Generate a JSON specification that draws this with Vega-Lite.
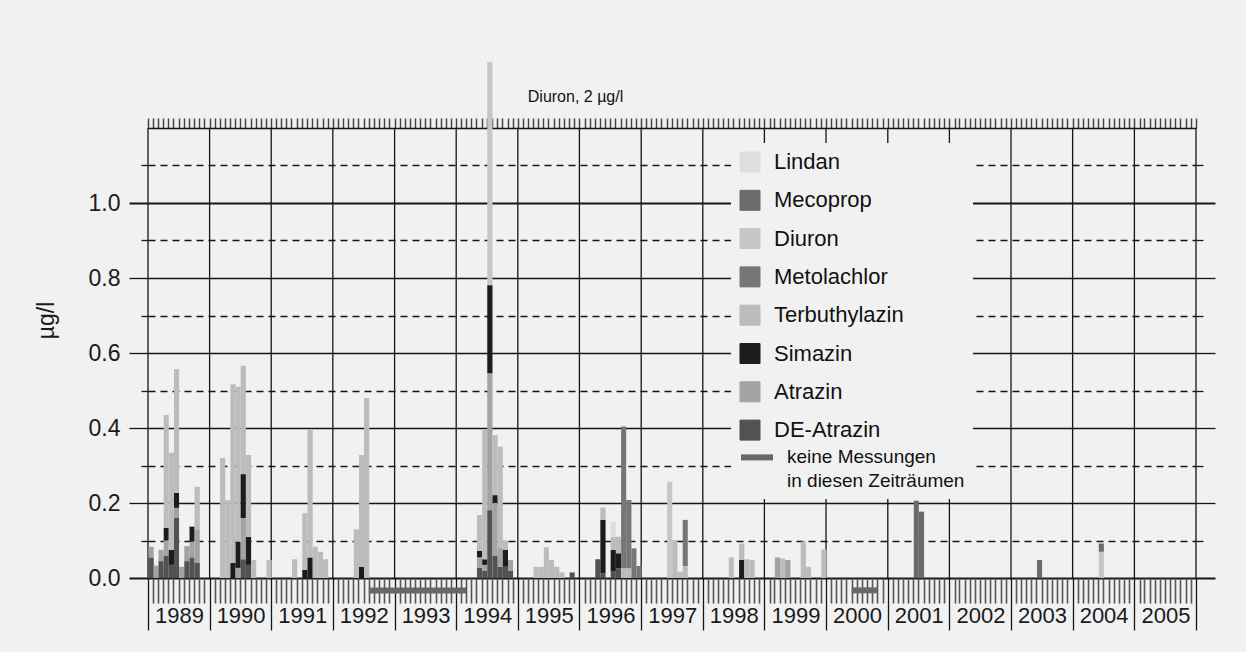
{
  "$schema": "https://vega.github.io/schema/vega-lite/v6.json",
  "autosize": {"type": "none"},
  "padding": {"left": 148, "top": 62, "right": 50, "bottom": 74},
  "width": 1048,
  "height": 516,
  "background": "#f1f1f1",
  "config": {
    "view": {"stroke": null},
    "font": "Liberation Sans",
    "axis": {"labelFont": "Liberation Sans", "titleFont": "Liberation Sans"},
    "legend": {"labelFont": "Liberation Sans"}
  },
  "datasets": {
    "measurements": [
      {"month": "1989-01-01", "substance": "DE-Atrazin", "value": 0.055},
      {"month": "1989-01-01", "substance": "Atrazin", "value": 0.028},
      {"month": "1989-02-01", "substance": "Atrazin", "value": 0.033},
      {"month": "1989-03-01", "substance": "DE-Atrazin", "value": 0.045},
      {"month": "1989-03-01", "substance": "Atrazin", "value": 0.03},
      {"month": "1989-04-01", "substance": "DE-Atrazin", "value": 0.06},
      {"month": "1989-04-01", "substance": "Atrazin", "value": 0.04},
      {"month": "1989-04-01", "substance": "Simazin", "value": 0.034},
      {"month": "1989-04-01", "substance": "Terbuthylazin", "value": 0.301},
      {"month": "1989-05-01", "substance": "DE-Atrazin", "value": 0.035},
      {"month": "1989-05-01", "substance": "Simazin", "value": 0.04},
      {"month": "1989-05-01", "substance": "Terbuthylazin", "value": 0.259},
      {"month": "1989-06-01", "substance": "DE-Atrazin", "value": 0.16},
      {"month": "1989-06-01", "substance": "Atrazin", "value": 0.027},
      {"month": "1989-06-01", "substance": "Simazin", "value": 0.04},
      {"month": "1989-06-01", "substance": "Terbuthylazin", "value": 0.33},
      {"month": "1989-07-01", "substance": "Atrazin", "value": 0.03},
      {"month": "1989-08-01", "substance": "DE-Atrazin", "value": 0.045},
      {"month": "1989-08-01", "substance": "Atrazin", "value": 0.04},
      {"month": "1989-09-01", "substance": "DE-Atrazin", "value": 0.055},
      {"month": "1989-09-01", "substance": "Atrazin", "value": 0.042},
      {"month": "1989-09-01", "substance": "Simazin", "value": 0.04},
      {"month": "1989-10-01", "substance": "DE-Atrazin", "value": 0.04},
      {"month": "1989-10-01", "substance": "Atrazin", "value": 0.09},
      {"month": "1989-10-01", "substance": "Terbuthylazin", "value": 0.113},
      {"month": "1990-03-01", "substance": "Terbuthylazin", "value": 0.32},
      {"month": "1990-04-01", "substance": "Terbuthylazin", "value": 0.208},
      {"month": "1990-05-01", "substance": "Simazin", "value": 0.04},
      {"month": "1990-05-01", "substance": "Terbuthylazin", "value": 0.477},
      {"month": "1990-06-01", "substance": "Atrazin", "value": 0.027},
      {"month": "1990-06-01", "substance": "Simazin", "value": 0.07},
      {"month": "1990-06-01", "substance": "Terbuthylazin", "value": 0.413},
      {"month": "1990-07-01", "substance": "DE-Atrazin", "value": 0.05},
      {"month": "1990-07-01", "substance": "Atrazin", "value": 0.11},
      {"month": "1990-07-01", "substance": "Simazin", "value": 0.117},
      {"month": "1990-07-01", "substance": "Terbuthylazin", "value": 0.289},
      {"month": "1990-08-01", "substance": "DE-Atrazin", "value": 0.035},
      {"month": "1990-08-01", "substance": "Simazin", "value": 0.075},
      {"month": "1990-08-01", "substance": "Terbuthylazin", "value": 0.218},
      {"month": "1990-09-01", "substance": "Terbuthylazin", "value": 0.048},
      {"month": "1990-12-01", "substance": "Terbuthylazin", "value": 0.048},
      {"month": "1991-05-01", "substance": "Terbuthylazin", "value": 0.05},
      {"month": "1991-07-01", "substance": "Simazin", "value": 0.022},
      {"month": "1991-07-01", "substance": "Terbuthylazin", "value": 0.151},
      {"month": "1991-08-01", "substance": "Simazin", "value": 0.055},
      {"month": "1991-08-01", "substance": "Terbuthylazin", "value": 0.342},
      {"month": "1991-09-01", "substance": "Terbuthylazin", "value": 0.083},
      {"month": "1991-10-01", "substance": "Terbuthylazin", "value": 0.07},
      {"month": "1991-11-01", "substance": "Terbuthylazin", "value": 0.05},
      {"month": "1992-05-01", "substance": "Terbuthylazin", "value": 0.13},
      {"month": "1992-06-01", "substance": "Simazin", "value": 0.03},
      {"month": "1992-06-01", "substance": "Terbuthylazin", "value": 0.298},
      {"month": "1992-07-01", "substance": "Terbuthylazin", "value": 0.48},
      {"month": "1994-05-01", "substance": "DE-Atrazin", "value": 0.027},
      {"month": "1994-05-01", "substance": "Atrazin", "value": 0.028},
      {"month": "1994-05-01", "substance": "Simazin", "value": 0.017},
      {"month": "1994-05-01", "substance": "Terbuthylazin", "value": 0.096},
      {"month": "1994-06-01", "substance": "DE-Atrazin", "value": 0.02},
      {"month": "1994-06-01", "substance": "Atrazin", "value": 0.015},
      {"month": "1994-06-01", "substance": "Simazin", "value": 0.015},
      {"month": "1994-06-01", "substance": "Terbuthylazin", "value": 0.345},
      {"month": "1994-07-01", "substance": "DE-Atrazin", "value": 0.181},
      {"month": "1994-07-01", "substance": "Atrazin", "value": 0.365},
      {"month": "1994-07-01", "substance": "Simazin", "value": 0.235},
      {"month": "1994-07-01", "substance": "Diuron", "value": 2.0},
      {"month": "1994-08-01", "substance": "DE-Atrazin", "value": 0.06},
      {"month": "1994-08-01", "substance": "Atrazin", "value": 0.14},
      {"month": "1994-08-01", "substance": "Simazin", "value": 0.021},
      {"month": "1994-08-01", "substance": "Terbuthylazin", "value": 0.16},
      {"month": "1994-09-01", "substance": "DE-Atrazin", "value": 0.03},
      {"month": "1994-09-01", "substance": "Atrazin", "value": 0.05},
      {"month": "1994-09-01", "substance": "Terbuthylazin", "value": 0.27},
      {"month": "1994-10-01", "substance": "DE-Atrazin", "value": 0.03},
      {"month": "1994-10-01", "substance": "Simazin", "value": 0.045},
      {"month": "1994-10-01", "substance": "Terbuthylazin", "value": 0.025},
      {"month": "1994-11-01", "substance": "DE-Atrazin", "value": 0.02},
      {"month": "1994-11-01", "substance": "Atrazin", "value": 0.028},
      {"month": "1995-04-01", "substance": "Terbuthylazin", "value": 0.03},
      {"month": "1995-05-01", "substance": "Terbuthylazin", "value": 0.03},
      {"month": "1995-06-01", "substance": "Terbuthylazin", "value": 0.082},
      {"month": "1995-07-01", "substance": "Terbuthylazin", "value": 0.048},
      {"month": "1995-08-01", "substance": "Terbuthylazin", "value": 0.03},
      {"month": "1995-09-01", "substance": "Terbuthylazin", "value": 0.015},
      {"month": "1995-11-01", "substance": "DE-Atrazin", "value": 0.015},
      {"month": "1996-04-01", "substance": "DE-Atrazin", "value": 0.05},
      {"month": "1996-05-01", "substance": "DE-Atrazin", "value": 0.012},
      {"month": "1996-05-01", "substance": "Simazin", "value": 0.143},
      {"month": "1996-05-01", "substance": "Terbuthylazin", "value": 0.033},
      {"month": "1996-07-01", "substance": "DE-Atrazin", "value": 0.017},
      {"month": "1996-07-01", "substance": "Simazin", "value": 0.058},
      {"month": "1996-07-01", "substance": "Terbuthylazin", "value": 0.035},
      {"month": "1996-07-01", "substance": "Lindan", "value": 0.04},
      {"month": "1996-08-01", "substance": "DE-Atrazin", "value": 0.026},
      {"month": "1996-08-01", "substance": "Simazin", "value": 0.04},
      {"month": "1996-08-01", "substance": "Terbuthylazin", "value": 0.044},
      {"month": "1996-09-01", "substance": "Terbuthylazin", "value": 0.026},
      {"month": "1996-09-01", "substance": "Metolachlor", "value": 0.378},
      {"month": "1996-10-01", "substance": "Terbuthylazin", "value": 0.026},
      {"month": "1996-10-01", "substance": "Metolachlor", "value": 0.182},
      {"month": "1996-11-01", "substance": "Metolachlor", "value": 0.079},
      {"month": "1996-12-01", "substance": "Metolachlor", "value": 0.032},
      {"month": "1997-06-01", "substance": "Diuron", "value": 0.257},
      {"month": "1997-07-01", "substance": "Terbuthylazin", "value": 0.101},
      {"month": "1997-08-01", "substance": "Terbuthylazin", "value": 0.017},
      {"month": "1997-09-01", "substance": "Terbuthylazin", "value": 0.032},
      {"month": "1997-09-01", "substance": "Metolachlor", "value": 0.123},
      {"month": "1998-06-01", "substance": "Terbuthylazin", "value": 0.055},
      {"month": "1998-08-01", "substance": "Simazin", "value": 0.048},
      {"month": "1998-08-01", "substance": "Terbuthylazin", "value": 0.044},
      {"month": "1998-09-01", "substance": "Terbuthylazin", "value": 0.05},
      {"month": "1998-10-01", "substance": "Terbuthylazin", "value": 0.048},
      {"month": "1999-03-01", "substance": "Atrazin", "value": 0.055},
      {"month": "1999-04-01", "substance": "Terbuthylazin", "value": 0.052},
      {"month": "1999-05-01", "substance": "Atrazin", "value": 0.048},
      {"month": "1999-08-01", "substance": "Terbuthylazin", "value": 0.097},
      {"month": "1999-09-01", "substance": "Terbuthylazin", "value": 0.03},
      {"month": "1999-12-01", "substance": "Terbuthylazin", "value": 0.076},
      {"month": "2001-06-01", "substance": "Mecoprop", "value": 0.206},
      {"month": "2001-07-01", "substance": "Mecoprop", "value": 0.177},
      {"month": "2003-06-01", "substance": "Mecoprop", "value": 0.048},
      {"month": "2004-06-01", "substance": "Diuron", "value": 0.07},
      {"month": "2004-06-01", "substance": "Mecoprop", "value": 0.022}
    ],
    "substances": [
      {"substance": "DE-Atrazin", "rank": 1},
      {"substance": "Atrazin", "rank": 2},
      {"substance": "Simazin", "rank": 3},
      {"substance": "Terbuthylazin", "rank": 4},
      {"substance": "Metolachlor", "rank": 5},
      {"substance": "Diuron", "rank": 6},
      {"substance": "Mecoprop", "rank": 7},
      {"substance": "Lindan", "rank": 8}
    ],
    "years": [
      {"year": "1989-01-01"}, {"year": "1990-01-01"}, {"year": "1991-01-01"}, {"year": "1992-01-01"},
      {"year": "1993-01-01"}, {"year": "1994-01-01"}, {"year": "1995-01-01"}, {"year": "1996-01-01"},
      {"year": "1997-01-01"}, {"year": "1998-01-01"}, {"year": "1999-01-01"}, {"year": "2000-01-01"},
      {"year": "2001-01-01"}, {"year": "2002-01-01"}, {"year": "2003-01-01"}, {"year": "2004-01-01"},
      {"year": "2005-01-01"}, {"year": "2006-01-01"}
    ],
    "gaps": [
      {"start": "1992-08-01", "end": "1994-03-01", "label": "keine Messungen in diesen Zeiträumen"},
      {"start": "2000-06-01", "end": "2000-11-01", "label": "keine Messungen in diesen Zeiträumen"}
    ],
    "notes": [
      {"date": "1995-03-01", "level": 1.283, "text": "Diuron, 2 µg/l"}
    ]
  },
  "resolve": {"axis": {"x": "independent", "y": "independent"}},
  "layer": [
    {
      "data": {"name": "years"},
      "mark": {"type": "rule", "color": "#161616", "strokeWidth": 1.3},
      "encoding": {
        "x": {
          "field": "year", "type": "temporal", "timeUnit": "utcyear", "bandPosition": 0,
          "scale": {"domain": [{"year": 1989, "month": 1, "date": 1, "utc": true}, {"year": 2006, "month": 1, "date": 1, "utc": true}]},
          "axis": {
            "orient": "top", "offset": -66, "title": null, "labels": false, "grid": false,
            "tickCount": {"interval": "month", "step": 1}, "tickSize": 10, "tickColor": "#444", "tickWidth": 1.5,
            "domain": true, "domainColor": "#161616", "domainWidth": 1.4
          }
        },
        "y": {
          "datum": 0, "type": "quantitative",
          "scale": {"domain": [0, 1.376], "nice": false, "zero": false},
          "axis": {
            "orient": "right", "title": null, "labels": false, "grid": false, "domain": false,
            "values": [0, 0.1, 0.2, 0.3, 0.4, 0.5, 0.6, 0.7, 0.8, 0.9, 1, 1.1],
            "tickSize": {"condition": {"test": "round(datum.value*10)%2==1", "value": 12}, "value": 19},
            "tickDash": {"condition": {"test": "round(datum.value*10)%2==1", "value": [7, 5]}, "value": []},
            "tickWidth": {"condition": {"test": "datum.value==0 || datum.value==1", "value": 2}, "value": 1.3},
            "tickColor": "#161616"
          }
        },
        "y2": {"datum": 1.2}
      }
    },
    {
      "data": {"name": "measurements"},
      "transform": [
        {"lookup": "substance", "from": {"data": {"name": "substances"}, "key": "substance", "fields": ["rank"]}}
      ],
      "mark": {"type": "bar", "clip": true, "binSpacing": 0},
      "encoding": {
        "x": {
          "field": "month", "type": "temporal", "timeUnit": "utcyearmonth",
          "scale": {"domain": [{"year": 1989, "month": 1, "date": 1, "utc": true}, {"year": 2006, "month": 1, "date": 1, "utc": true}]},
          "axis": {
            "orient": "bottom", "title": null, "grid": false, "domain": false,
            "tickCount": {"interval": "month", "step": 1},
            "tickSize": {"condition": {"test": "utcmonth(datum.value)==0", "value": 52}, "value": 25},
            "tickColor": {"condition": {"test": "utcmonth(datum.value)==0", "value": "#161616"}, "value": "#555555"},
            "tickWidth": {"condition": {"test": "utcmonth(datum.value)==0", "value": 1.3}, "value": 1.6},
            "labelExpr": "utcmonth(datum.value)==0 && utcyear(datum.value)<2006 ? utcFormat(datum.value, '%Y') : ''",
            "labelOffset": 31, "labelFontSize": 22, "labelColor": "#1a1a1a", "labelPadding": -25,
            "labelFlush": false, "labelOverlap": false, "labelBound": false, "labelAlign": "center", "labelBaseline": "top"
          }
        },
        "y": {
          "field": "value", "type": "quantitative", "stack": "zero",
          "scale": {"domain": [0, 1.376], "nice": false, "zero": false},
          "axis": {
            "orient": "left", "title": "µg/l", "titleFontSize": 23, "titleFontWeight": "normal", "titleColor": "#1a1a1a", "titlePadding": 30,
            "values": [0, 0.1, 0.2, 0.3, 0.4, 0.5, 0.6, 0.7, 0.8, 0.9, 1, 1.1],
            "grid": true, "gridColor": "#161616",
            "gridDash": {"condition": {"test": "round(datum.value*10)%2==1", "value": [7, 5]}, "value": []},
            "gridWidth": {"condition": {"test": "datum.value==0 || datum.value==1", "value": 2}, "value": 1.3},
            "domain": false,
            "tickSize": {"condition": {"test": "round(datum.value*10)%2==1", "value": 11}, "value": 19},
            "tickDash": {"condition": {"test": "round(datum.value*10)%2==1", "value": [7, 5]}, "value": []},
            "tickWidth": {"condition": {"test": "datum.value==0 || datum.value==1", "value": 2}, "value": 1.3},
            "tickColor": "#161616",
            "labelExpr": "round(datum.value*10)%2==0 ? format(datum.value, '.1f') : ''",
            "labelFontSize": 23, "labelColor": "#1a1a1a", "labelPadding": 9
          }
        },
        "color": {
          "field": "substance", "type": "nominal",
          "scale": {
            "domain": ["Lindan", "Mecoprop", "Diuron", "Metolachlor", "Terbuthylazin", "Simazin", "Atrazin", "DE-Atrazin", "keine Messungen in diesen Zeiträumen"],
            "range": ["#dedede", "#6b6b6b", "#c6c6c6", "#767676", "#bcbcbc", "#1c1c1c", "#a3a3a3", "#525252", "#686868"]
          },
          "legend": {
            "title": null, "orient": "none", "legendX": 583, "legendY": 81,
            "symbolType": "square", "symbolSize": 400, "symbolStrokeColor": "#333333", "symbolStrokeWidth": 1, "symbolOpacity": 1,
            "labelFontSize": 22, "labelColor": "#111111", "labelLimit": 400, "labelOffset": 13,
            "rowPadding": 0.3, "fillColor": "#f1f1f1", "padding": 8,
            "labelExpr": "datum.value == 'keine Messungen in diesen Zeiträumen' ? ['keine Messungen', 'in diesen Zeiträumen'] : datum.label",
            "encode": {
              "symbols": {"update": {
                "shape": {"signal": "datum.value == 'keine Messungen in diesen Zeiträumen' ? 'M0,-1.44M-0.9,-0.3L2.3,-0.3L2.3,0.3L-0.9,0.3Z' : 'M0,-2.4M-1,-1L1,-1L1,1L-1,1Z'"},
                "fill": {"scale": "color", "field": "value"},
                "stroke": {"value": "#333333"},
                "strokeWidth": {"signal": "datum.value == 'keine Messungen in diesen Zeiträumen' ? 0 : 1"},
                "opacity": {"value": 1}
              }},
              "labels": {"update": {
                "fontSize": {"signal": "datum.value == 'keine Messungen in diesen Zeiträumen' ? 19 : 22"},
                "dx": {"signal": "datum.value == 'keine Messungen in diesen Zeiträumen' ? 13 : 0"},
                "baseline": {"signal": "datum.value == 'keine Messungen in diesen Zeiträumen' ? 'top' : 'middle'"},
                "dy": {"signal": "datum.value == 'keine Messungen in diesen Zeiträumen' ? -9.5 : 0"},
                "lineHeight": {"signal": "datum.value == 'keine Messungen in diesen Zeiträumen' ? 24 : 22"}
              }}
            }
          }
        },
        "order": {"field": "rank", "type": "quantitative"}
      }
    },
    {
      "data": {"name": "gaps"},
      "mark": {"type": "rule", "strokeWidth": 6},
      "encoding": {
        "x": {"field": "start", "type": "temporal", "timeUnit": "utcyearmonth", "bandPosition": 0, "axis": null},
        "x2": {"field": "end", "timeUnit": "utcyearmonth"},
        "y": {"datum": -0.033, "type": "quantitative", "axis": null},
        "color": {"field": "label", "type": "nominal"}
      }
    },
    {
      "data": {"name": "notes"},
      "mark": {"type": "text", "align": "left", "baseline": "middle", "fontSize": 16, "font": "Liberation Sans", "color": "#111111"},
      "encoding": {
        "x": {"field": "date", "type": "temporal", "timeUnit": "utcyearmonth", "bandPosition": 0, "axis": null},
        "y": {"field": "level", "type": "quantitative", "axis": null},
        "text": {"field": "text"}
      }
    }
  ]
}
